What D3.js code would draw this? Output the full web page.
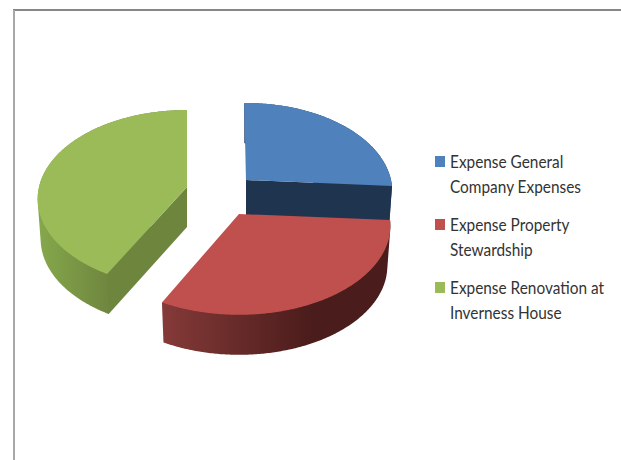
<!DOCTYPE html>
<html>
<head>
<meta charset="utf-8">
<script src="https://cdn.jsdelivr.net/npm/d3@7"></script>
<style>
  html, body { margin: 0; padding: 0; background: #fff; }
  svg { display: block; }
  text { font-family: Lato, "Open Sans", sans-serif; font-size: 17px; fill: #333; }
</style>
</head>
<body>
<svg id="chart" width="621" height="460"></svg>
<script>
// values, share of total in %
const categories = ["Expense General Company Expenses", "Expense Property Stewardship", "Expense Renovation at Inverness House"];
const values = [26.1, 31.8, 42.1];
const legendLines = [["Expense General", "Company Expenses"], ["Expense Property", "Stewardship"], ["Expense Renovation at", "Inverness House"]];
const topColors = ["#4f81bd", "#c0504d", "#9bbb59"];
const cutColors = ["#1f354f", "#4a1c1b", "#6e853e"];
const wallFrom = ["#2c4a70", "#853a38", "#86a84c"];
const wallTo = ["#1f354f", "#4a1c1b", "#6f873f"];

const svg = d3.select("#chart");

// exploded slices: apex, x radius, small turn of the edges (radians), which cut face shows
const apex = [
  {x: 246, y: 180, rx: 145, turnStart: -0.014, turnEnd: 0, cut: "end"},
  {x: 239, y: 214, rx: 150, turnStart: 0, turnEnd: -0.027, cut: null},
  {x: 187, y: 187, rx: 148, turnStart: 0, turnEnd: 0, cut: "start"}
];
const ry = 87.3, persp = 0.134, depth = 40, shrink = 0.98;

// frame, only top and left show
svg.append("line").attr("x1", 13).attr("x2", 621).attr("y1", 10).attr("y2", 10).attr("stroke", "#868686").attr("stroke-width", 2);
svg.append("line").attr("x1", 14).attr("x2", 14).attr("y1", 10).attr("y2", 460).attr("stroke", "#a8a8a8").attr("stroke-width", 2);

const pie = d3.pie().sort(null).value(d => d);
const arcs = pie(values);

// circle -> screen, a simple perspective so the near half comes out taller
const project = (a, t, lower) => {
  const u = Math.sin(t), v = -Math.cos(t), w = 1 - persp * v;
  const dx = a.rx * u / w, dy = ry * v / w;
  return lower ? [a.x + dx * shrink, a.y + dy + depth] : [a.x + dx, a.y + dy];
};
const line = d3.line().curve(d3.curveLinear);
const defs = svg.append("defs");

// back to front
[0, 2, 1].forEach(i => {
  const d = arcs[i], a = apex[i];
  const t0 = d.startAngle + a.turnStart, t1 = d.endAngle + a.turnEnd;
  const ts = d3.range(t0, t1, 0.01).concat([t1]);
  const g = svg.append("g");

  const xs = ts.map(t => project(a, t, false)[0]);
  const grad = defs.append("linearGradient").attr("id", "wall" + i)
    .attr("gradientUnits", "userSpaceOnUse")
    .attr("x1", d3.min(xs)).attr("x2", i == 1 ? d3.min(xs) + 150 : d3.max(xs) - 80)
    .attr("y1", 0).attr("y2", 0);
  grad.append("stop").attr("offset", 0).attr("stop-color", wallFrom[i]);
  grad.append("stop").attr("offset", 1).attr("stop-color", wallTo[i]);

  // outer wall, hull so the silhouette runs straight down the sides
  const wall = d3.polygonHull(ts.map(t => project(a, t, false)).concat(ts.map(t => project(a, t, true))));
  g.append("path").attr("d", line(wall) + "Z").attr("fill", `url(#wall${i})`);

  // the cut face that looks at us
  if (a.cut) {
    const t = a.cut == "start" ? t0 : t1;
    const quad = [[a.x, a.y], project(a, t, false), project(a, t, true), [a.x, a.y + depth]];
    g.append("path").attr("d", line(quad) + "Z").attr("fill", cutColors[i]);
  }

  // top face
  const top = [[a.x, a.y]].concat(ts.map(t => project(a, t, false)));
  g.append("path").attr("d", line(top) + "Z").attr("fill", topColors[i]);
});

// legend
const legendY = d3.scalePoint().domain(categories).range([168, 294]);
const legend = svg.selectAll(".item").data(categories).join("g").attr("class", "item")
  .attr("transform", d => `translate(435,${legendY(d)})`);
legend.append("rect").attr("x", 0).attr("y", -12).attr("width", 10).attr("height", 11)
  .attr("fill", (d, i) => topColors[i]);
legend.selectAll("text").data((d, i) => legendLines[i]).join("text")
  .attr("transform", (d, j) => `translate(15,${j * 25}) scale(0.905,1)`).text(d => d);
</script>
</body>
</html>
